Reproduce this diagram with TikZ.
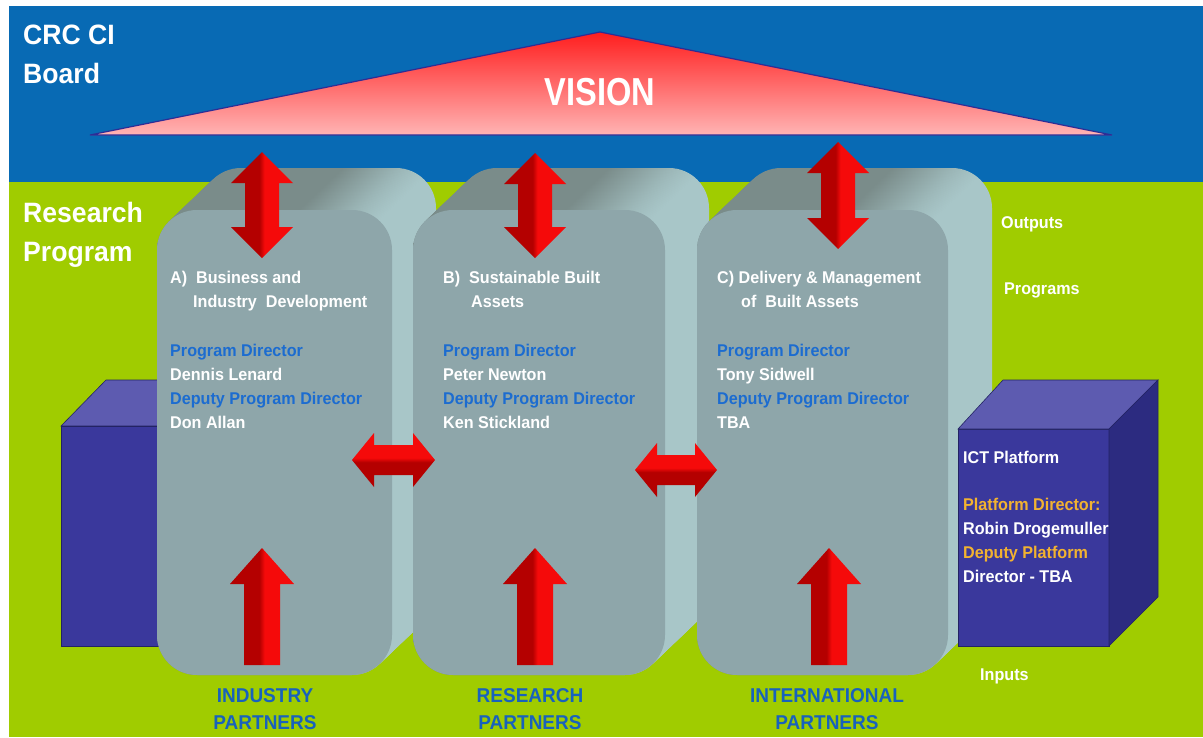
\documentclass[tikz,border=0pt]{standalone}
\usepackage{fontspec}
\setmainfont{Liberation Sans}[FakeStretch=0.95]
\usepackage{graphicx}

\definecolor{boardblue}{RGB}{8,106,180}
\definecolor{progreen}{RGB}{160,204,0}
\definecolor{visionred}{RGB}{255,30,30}
\definecolor{visionpink}{RGB}{255,180,180}
\definecolor{visionedge}{RGB}{45,45,150}
\definecolor{colfront}{RGB}{142,166,170}
\definecolor{colside}{RGB}{168,198,200}
\definecolor{coltop}{RGB}{122,140,138}
\definecolor{cubefront}{RGB}{58,56,156}
\definecolor{cubetop}{RGB}{93,91,176}
\definecolor{cubeside}{RGB}{44,43,128}
\definecolor{cubeedge}{RGB}{35,35,100}
\definecolor{arrowdark}{RGB}{180,0,0}
\definecolor{arrowlight}{RGB}{245,10,10}
\definecolor{dirblue}{RGB}{28,108,208}
\definecolor{partnerblue}{RGB}{24,98,188}
\definecolor{dirorange}{RGB}{242,178,48}

\pgfdeclarehorizontalshading{colsweep}{100bp}{color(0bp)=(coltop); color(55bp)=(coltop); color(72bp)=(colside); color(100bp)=(colside)}
\pgfdeclarehorizontalshading{arrowsplit}{100bp}{color(0bp)=(arrowdark); color(48bp)=(arrowdark); color(52bp)=(arrowlight); color(100bp)=(arrowlight)}
\pgfdeclareverticalshading{arrowsplitv}{100bp}{color(0bp)=(arrowdark); color(48bp)=(arrowdark); color(52bp)=(arrowlight); color(100bp)=(arrowlight)}

\tikzset{bandtext/.style={anchor=north west, inner sep=0pt, align=left, text=white, font=\fontsize{28}{39}\selectfont\bfseries},
coltext/.style={anchor=north west, inner sep=0pt, align=left, text=white, font=\fontsize{17}{24}\selectfont\bfseries},
sidetext/.style={anchor=base west, inner sep=0pt, text=white, font=\fontsize{17}{24}\selectfont\bfseries},
partnertext/.style={anchor=north, inner sep=0pt, align=center, text=partnerblue, font=\fontsize{20}{27}\selectfont\bfseries}}

% one program column: front face from x=#1 to x=#2
\newcommand{\progcolumn}[2]{%
\foreach \s in {0,...,30}{%
\pgfmathsetmacro{\dd}{(30-\s)/30}%
\shade[shading=colsweep, rounded corners=40pt] (#1+44*\dd, 210-42*\dd) rectangle (#2+44*\dd, 675-42*\dd);
}%
\fill[colfront, rounded corners=40pt] (#1,210) rectangle (#2,675);
}
% block arrows
\newcommand{\vertdouble}[3]{%
\shade[shading=arrowsplit] (#1,#2) -- (#1+31,#2+31) -- (#1+17,#2+31) -- (#1+17,#3-31) -- (#1+31,#3-31) -- (#1,#3) -- (#1-31,#3-31) -- (#1-17,#3-31) -- (#1-17,#2+31) -- (#1-31,#2+31) -- cycle;
}
\newcommand{\vertsingle}[3]{%
\shade[shading=arrowsplit] (#1,#2) -- (#1+32,#2+36) -- (#1+18,#2+36) -- (#1+18,#3) -- (#1-18,#3) -- (#1-18,#2+36) -- (#1-32,#2+36) -- cycle;
}
\newcommand{\horzdouble}[3]{%
\shade[shading=arrowsplitv] (#1,#3) -- (#1+22,#3-27) -- (#1+22,#3-15) -- (#2-22,#3-15) -- (#2-22,#3-27) -- (#2,#3) -- (#2-22,#3+27) -- (#2-22,#3+15) -- (#1+22,#3+15) -- (#1+22,#3+27) -- cycle;
}

\begin{document}
\begin{tikzpicture}[x=1pt,y=-1pt]
\useasboundingbox (0,0) rectangle (1203,737);

% bands
\fill[white] (0,0) rectangle (1203,737);
\fill[boardblue] (9,6) rectangle (1203,182);
\fill[progreen] (9,182) rectangle (1203,737);

% vision
\shadedraw[top color=visionred, bottom color=visionpink, draw=visionedge, line width=1.2pt] (90,135) -- (600,32) -- (1112,135) -- cycle;
\node (vision) at (600,105) [anchor=base, inner sep=0pt, text=white, font=\fontsize{39}{40}\selectfont\bfseries] {\scalebox{0.88}[1]{VISION}};

% left cube
\fill[cubetop, draw=cubeedge, line width=0.6pt] (61,426) -- (106,380) -- (215,380) -- (170,426) -- cycle;
\fill[cubefront, draw=cubeedge, line width=0.6pt] (61,426) rectangle (170,646);

% columns
\progcolumn{157}{392}
\progcolumn{413}{665}
\progcolumn{697}{948}

% ICT cube
\fill[cubefront, draw=cubeedge, line width=0.6pt] (958,429) rectangle (1109,646);
\fill[cubetop, draw=cubeedge, line width=0.6pt] (958,429) -- (1003,380) -- (1158,380) -- (1109,429) -- cycle;
\fill[cubeside, draw=cubeedge, line width=0.6pt] (1109,429) -- (1158,380) -- (1158,597) -- (1109,646) -- cycle;

% arrows
\vertdouble{262}{152}{258}
\vertdouble{535}{153}{258}
\vertdouble{838}{142}{249}
\vertsingle{262}{548}{665}
\vertsingle{535}{548}{665}
\vertsingle{829}{548}{665}
\horzdouble{352}{435}{460}
\horzdouble{635}{717}{470}

% texts
\node[bandtext] (board) at (23,25) {CRC CI\\Board};
\node[bandtext] (research) at (23,202) {Research\\Program};

\node[coltext] (cola) at (170,271) {A)~~Business and\\\hspace*{23pt}Industry~~Development\\[25pt]
{\color{dirblue}Program Director}\\Dennis Lenard\\{\color{dirblue}Deputy Program Director}\\Don Allan};
\node[coltext] (colb) at (443,271) {B)~~Sustainable Built\\\hspace*{28pt}Assets\\[25pt]
{\color{dirblue}Program Director}\\Peter Newton\\{\color{dirblue}Deputy Program Director}\\Ken Stickland};
\node[coltext] (colc) at (717,271) {C) Delivery \& Management\\\hspace*{24pt}of~~Built Assets\\[25pt]
{\color{dirblue}Program Director}\\Tony Sidwell\\{\color{dirblue}Deputy Program Director}\\TBA};

\node[coltext] (ict) at (963,451) {ICT Platform\\[23pt]
{\color{dirorange}Platform Director:}\\Robin Drogemuller\\{\color{dirorange}Deputy Platform}\\Director - TBA};

\node[sidetext] (outputs) at (1001,228) {Outputs};
\node[sidetext] (programs) at (1004,294) {Programs};
\node[sidetext] (inputs) at (980,680) {Inputs};

\node[partnertext] (industry) at (265,688) {INDUSTRY\\PARTNERS};
\node[partnertext] (researchp) at (530,688) {RESEARCH\\PARTNERS};
\node[partnertext] (international) at (827,688) {INTERNATIONAL\\PARTNERS};
\end{tikzpicture}
\end{document}
